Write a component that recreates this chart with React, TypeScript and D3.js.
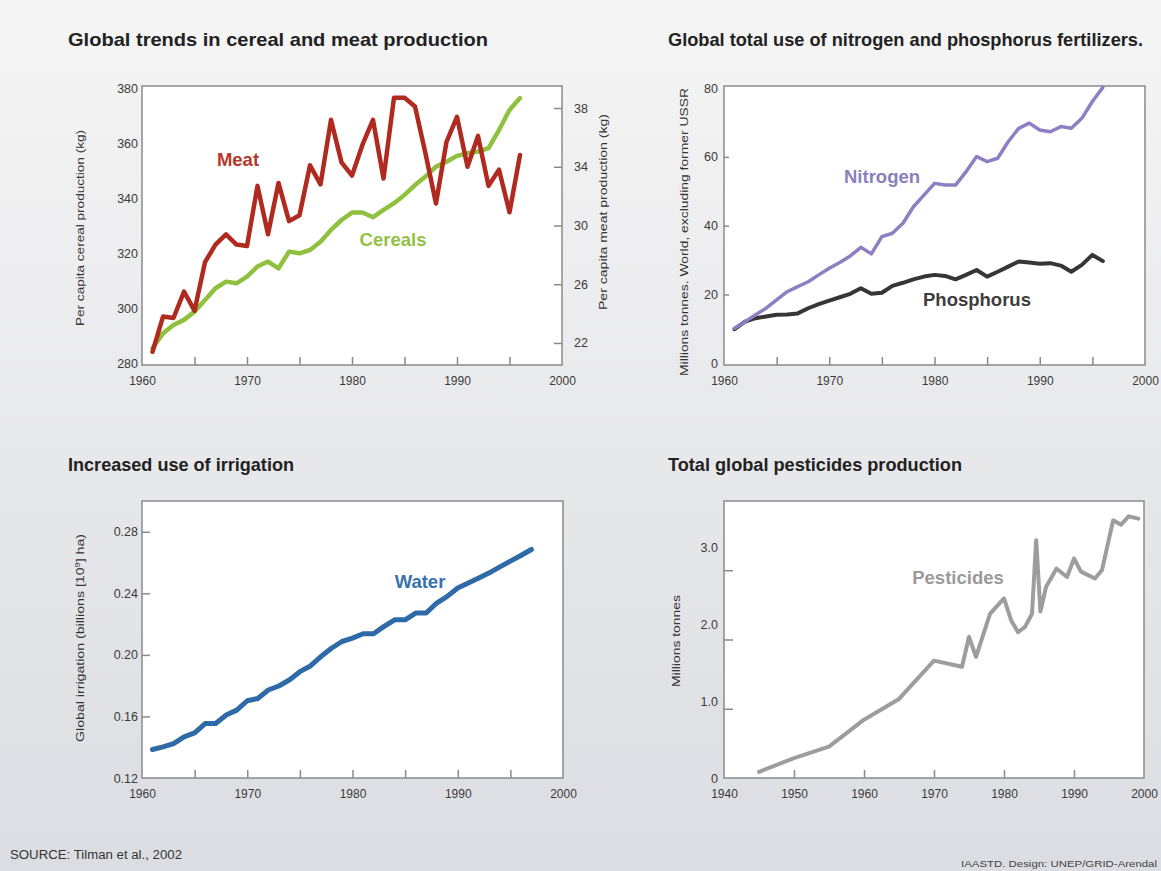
import { useEffect, useRef } from 'react'
import * as d3 from 'd3'

const W = 1161
const H = 871

// cereal / meat per capita, 1961-1996
const cmYears = [1961, 1962, 1963, 1964, 1965, 1966, 1967, 1968, 1969, 1970, 1971, 1972, 1973, 1974, 1975, 1976, 1977, 1978, 1979, 1980, 1981, 1982, 1983, 1984, 1985, 1986, 1987, 1988, 1989, 1990, 1991, 1992, 1993, 1994, 1995, 1996]
const cereals = [285.5, 290.9, 293.9, 295.8, 298.8, 303.0, 307.3, 309.7, 309.1, 311.5, 315.2, 317.0, 314.5, 320.6, 320.0, 321.2, 324.2, 328.5, 332.1, 334.8, 334.8, 333.1, 335.8, 338.2, 341.2, 344.8, 347.9, 351.5, 353.3, 355.4, 356.4, 357.0, 358.2, 364.8, 372.1, 376.4]
const meat = [21.4, 23.8, 23.7, 25.5, 24.2, 27.5, 28.7, 29.4, 28.7, 28.6, 32.7, 29.4, 32.9, 30.3, 30.7, 34.1, 32.8, 37.2, 34.3, 33.4, 35.5, 37.2, 33.2, 38.7, 38.7, 38.1, 34.9, 31.5, 35.7, 37.4, 34.0, 36.1, 32.7, 33.8, 30.9, 34.8]

// fertilizers, 1961-1996
const fertYears = [1961, 1962, 1963, 1964, 1965, 1966, 1967, 1968, 1969, 1970, 1971, 1972, 1973, 1974, 1975, 1976, 1977, 1978, 1979, 1980, 1981, 1982, 1983, 1984, 1985, 1986, 1987, 1988, 1989, 1990, 1991, 1992, 1993, 1994, 1995, 1996]
const nitrogen = [10.2, 12.1, 14.1, 16.0, 18.4, 20.8, 22.3, 23.7, 25.7, 27.6, 29.3, 31.2, 33.7, 31.8, 36.8, 37.8, 40.7, 45.5, 48.9, 52.3, 51.8, 51.8, 55.7, 60.1, 58.6, 59.6, 64.4, 68.3, 69.8, 67.8, 67.3, 68.8, 68.3, 71.2, 76.1, 80.2]
const phosphorus = [9.9, 12.1, 13.1, 13.6, 14.1, 14.2, 14.5, 16.0, 17.2, 18.2, 19.2, 20.2, 21.8, 20.2, 20.5, 22.5, 23.4, 24.4, 25.2, 25.7, 25.4, 24.4, 25.7, 27.1, 25.2, 26.6, 28.1, 29.6, 29.3, 28.9, 29.1, 28.4, 26.6, 28.6, 31.5, 29.7]

// irrigation, 1961-1997
const irrYears = [1961, 1962, 1963, 1964, 1965, 1966, 1967, 1968, 1969, 1970, 1971, 1972, 1973, 1974, 1975, 1976, 1977, 1978, 1979, 1980, 1981, 1982, 1983, 1984, 1985, 1986, 1987, 1988, 1989, 1990, 1991, 1992, 1993, 1994, 1995, 1996, 1997]
const water = [0.1385, 0.1402, 0.1424, 0.1467, 0.1493, 0.1554, 0.1554, 0.1609, 0.1641, 0.1702, 0.1717, 0.1772, 0.1798, 0.1837, 0.1891, 0.1928, 0.1989, 0.2043, 0.2087, 0.2109, 0.2137, 0.2137, 0.2185, 0.2228, 0.2228, 0.2272, 0.2272, 0.2337, 0.238, 0.2435, 0.2467, 0.25, 0.2533, 0.2572, 0.2609, 0.2646, 0.2685]

// pesticides
const pestYears = [1945, 1950, 1955, 1960, 1965, 1970, 1974, 1975, 1976, 1978, 1980, 1981, 1982, 1983, 1984, 1984.6, 1985.2, 1986, 1987.5, 1989, 1990, 1991, 1993, 1994, 1995.6, 1996.7, 1997.8, 1999.2]
const pesticides = [0.08, 0.26, 0.41, 0.76, 1.03, 1.53, 1.45, 1.84, 1.58, 2.14, 2.34, 2.06, 1.9, 1.97, 2.14, 3.1, 2.17, 2.49, 2.73, 2.62, 2.86, 2.69, 2.6, 2.71, 3.36, 3.3, 3.41, 3.38]

// ticks
const decadeLabels = [1960, 1970, 1980, 1990, 2000]
const fiveYearMarks = [1965, 1970, 1975, 1980, 1985, 1990, 1995]
const cerealTicks = [280, 300, 320, 340, 360, 380]
const meatTicks = [22, 26, 30, 34, 38]
const fertTicks = [0, 20, 40, 60, 80]
const fertMarks = [20, 40, 60]
const irrTicks = [0.12, 0.16, 0.2, 0.24, 0.28]
const irrMarks = [0.16, 0.2, 0.24, 0.28]
const pestYearLabels = [1940, 1950, 1960, 1970, 1980, 1990, 2000]
const pestYearMarks = [1950, 1960, 1970, 1980, 1990]
const pestLabels = [0, 1, 2, 3]
const pestMarks = [1, 2, 3]

const FONT = "'Liberation Sans', Arial, Helvetica, sans-serif"

const App = () => {
	const svgRef = useRef(null)

	useEffect(() => {
		const svg = d3.select(svgRef.current)
		svg.selectAll('*').remove()

		// background
		const defs = svg.append('defs')
		const grad = defs.append('linearGradient').attr('id', 'bg').attr('x1', 0).attr('y1', 0).attr('x2', 0).attr('y2', 1)
		grad.append('stop').attr('offset', '0%').attr('stop-color', '#f5f5f5')
		grad.append('stop').attr('offset', '100%').attr('stop-color', '#dcdde2')
		svg.append('rect').attr('width', W).attr('height', H).attr('fill', 'url(#bg)')

		const frame = (g, x, y) => {
			const [xa, xb] = x.range()
			const [ya, yb] = y.range()
			g.append('rect')
				.attr('x', xa).attr('y', yb)
				.attr('width', xb - xa).attr('height', ya - yb)
				.attr('fill', '#fff')
				.attr('stroke', '#8a8a8a')
				.attr('stroke-width', 1.5)
		}

		const xAxis = (g, x, y, labels, marks, fmt = d3.format('d')) => {
			const bottom = y.range()[0]
			g.append('g')
				.attr('transform', `translate(0,${bottom})`)
				.call(d3.axisBottom(x).tickValues(labels).tickSize(0).tickPadding(11).tickFormat(fmt))
				.call((a) => a.select('.domain').remove())
				.selectAll('text')
				.attr('font-size', 12)
				.attr('font-family', FONT)
				.attr('fill', '#3a3a3a')
			g.append('g')
				.attr('transform', `translate(0,${bottom})`)
				.call(d3.axisBottom(x).tickValues(marks).tickSize(-8).tickFormat(() => ''))
				.call((a) => a.select('.domain').remove())
				.selectAll('line')
				.attr('stroke', '#8a8a8a')
				.attr('stroke-width', 1.5)
		}

		const yLabels = (g, x, y, ticks, fmt, side = 'left', pad = 5) => {
			const left = side === 'left'
			const xp = left ? x.range()[0] : x.range()[1]
			const ax = left ? d3.axisLeft(y) : d3.axisRight(y)
			g.append('g')
				.attr('transform', `translate(${xp},0)`)
				.call(ax.tickValues(ticks).tickSize(0).tickPadding(pad).tickFormat(fmt))
				.call((a) => a.select('.domain').remove())
				.selectAll('text')
				.attr('font-size', 12.5)
				.attr('font-family', FONT)
				.attr('fill', '#3a3a3a')
		}

		const yMarks = (g, x, y, marks, side = 'left', len = 8) => {
			const left = side === 'left'
			const xp = left ? x.range()[0] : x.range()[1]
			const ax = left ? d3.axisLeft(y) : d3.axisRight(y)
			g.append('g')
				.attr('transform', `translate(${xp},0)`)
				.call(ax.tickValues(marks).tickSize(-len).tickFormat(() => ''))
				.call((a) => a.select('.domain').remove())
				.selectAll('line')
				.attr('stroke', '#8a8a8a')
				.attr('stroke-width', 1.5)
		}

		const series = (g, xs, ys, x, y, color, width) => {
			const line = d3.line().x((d) => x(d[0])).y((d) => y(d[1]))
			g.append('path')
				.datum(xs.map((v, i) => [v, ys[i]]))
				.attr('d', line)
				.attr('fill', 'none')
				.attr('stroke', color)
				.attr('stroke-width', width)
				.attr('stroke-linejoin', 'round')
				.attr('stroke-linecap', 'round')
		}

		const text = (g, x, y, str, opts = {}) => {
			const t = g.append('text')
				.attr('x', x).attr('y', y)
				.attr('font-family', FONT)
				.attr('font-size', opts.size || 12)
				.attr('font-weight', opts.weight || 'normal')
				.attr('fill', opts.color || '#222')
				.attr('text-anchor', opts.anchor || 'start')
				.text(str)
			if (opts.len) t.attr('textLength', opts.len).attr('lengthAdjust', 'spacingAndGlyphs')
			if (opts.rotate) t.attr('transform', `rotate(-90,${x},${y})`)
			return t
		}

		const title = (x, y, str, len) => text(svg, x, y, str, { size: 18.5, weight: 'bold', color: '#222', len })
		const seriesLabel = (x, y, str, color) => text(svg, x, y, str, { size: 18.5, weight: 'bold', color, anchor: 'middle' })
		const axisTitle = (x, y, str, len) => text(svg, x, y, str, { size: 11.5, color: '#333', anchor: 'middle', rotate: true, len })

		// Panel 1: cereal and meat
		{
			const g = svg.append('g')
			const x = d3.scaleLinear().domain([1960, 2000]).range([142, 562])
			const yL = d3.scaleLinear().domain([279.4, 380.8]).range([365, 86])
			const yR = d3.scaleLinear().domain([20.5, 39.5]).range([365, 86])
			frame(g, x, yL)
			xAxis(g, x, yL, decadeLabels, fiveYearMarks)
			yLabels(g, x, yL, cerealTicks, d3.format('d'), 'left', 4)
			yLabels(g, x, yR, meatTicks, d3.format('d'), 'right', 12)
			yMarks(g, x, yR, meatTicks, 'right', 8)
			series(g, cmYears, cereals, x, yL, '#8fc13e', 4.5)
			series(g, cmYears, meat, x, yR, '#b02a20', 4.5)
			title(68, 46, 'Global trends in cereal and meat production', 420)
			seriesLabel(238, 166, 'Meat', '#b5382a')
			seriesLabel(393, 246, 'Cereals', '#93c047')
			axisTitle(84, 228, 'Per capita cereal production (kg)', 196)
			axisTitle(607, 212, 'Per capita meat production (kg)', 196)
		}

		// Panel 2: fertilizers
		{
			const g = svg.append('g')
			const x = d3.scaleLinear().domain([1960, 2000]).range([724, 1145])
			const y = d3.scaleLinear().domain([-0.5, 80.6]).range([365, 86])
			frame(g, x, y)
			xAxis(g, x, y, decadeLabels, fiveYearMarks)
			yLabels(g, x, y, fertTicks, d3.format('d'), 'left', 6)
			yMarks(g, x, y, fertMarks, 'left', 5)
			series(g, fertYears, phosphorus, x, y, '#363636', 4)
			series(g, fertYears, nitrogen, x, y, '#8e7fc3', 3.5)
			title(668, 46, 'Global total use of nitrogen and phosphorus fertilizers.', 475)
			seriesLabel(882, 183, 'Nitrogen', '#8b7fbd')
			seriesLabel(977, 306, 'Phosphorus', '#3d3d3d')
			axisTitle(688, 232, 'Millions tonnes. World, excluding former USSR', 288)
		}

		// Panel 3: irrigation
		{
			const g = svg.append('g')
			const x = d3.scaleLinear().domain([1960, 2000]).range([142, 563])
			const y = d3.scaleLinear().domain([0.12, 0.30]).range([778, 501])
			frame(g, x, y)
			xAxis(g, x, y, decadeLabels, fiveYearMarks)
			yLabels(g, x, y, irrTicks, d3.format('.2f'), 'left', 4)
			yMarks(g, x, y, irrMarks, 'left', 8)
			series(g, irrYears, water, x, y, '#2e6aa7', 5)
			title(68, 471, 'Increased use of irrigation', 226)
			seriesLabel(420, 588, 'Water', '#3871ad')
			const t = text(svg, 84, 638, 'Global irrigation (billions [10', { size: 11.5, color: '#333', anchor: 'middle', rotate: true })
			t.append('tspan').attr('dy', -4).attr('font-size', 7.5).text('9')
			t.append('tspan').attr('dy', 4).text('] ha)')
			t.attr('textLength', 208).attr('lengthAdjust', 'spacingAndGlyphs')
		}

		// Panel 4: pesticides
		{
			const g = svg.append('g')
			const x = d3.scaleLinear().domain([1940, 2000]).range([724, 1144])
			const y = d3.scaleLinear().domain([0, 3.61]).range([778, 501])
			const yMark = d3.scaleLinear().domain([0, 4]).range([778, 501])
			frame(g, x, y)
			xAxis(g, x, y, pestYearLabels, pestYearMarks)
			yLabels(g, x, y, pestLabels, (d) => (d === 0 ? '0' : d3.format('.1f')(d)), 'left', 6)
			yMarks(g, x, yMark, pestMarks, 'left', 9)
			series(g, pestYears, pesticides, x, y, '#9d9d9d', 4)
			title(668, 471, 'Total global pesticides production', 294)
			seriesLabel(958, 584, 'Pesticides', '#9a9a9a')
			axisTitle(680, 641, 'Millions tonnes', 92)
		}

		text(svg, 10, 859, 'SOURCE: Tilman et al., 2002', { size: 12, color: '#333', len: 172 })
		text(svg, 1157, 867, 'IAASTD. Design: UNEP/GRID-Arendal', { size: 9.5, color: '#444', anchor: 'end', len: 196 })
	}, [])

	return (
		<>
			<style>{'body{margin:0}'}</style>
			<svg ref={svgRef} width={W} height={H} style={{ display: 'block' }}></svg>
		</>
	)
}

export default App
